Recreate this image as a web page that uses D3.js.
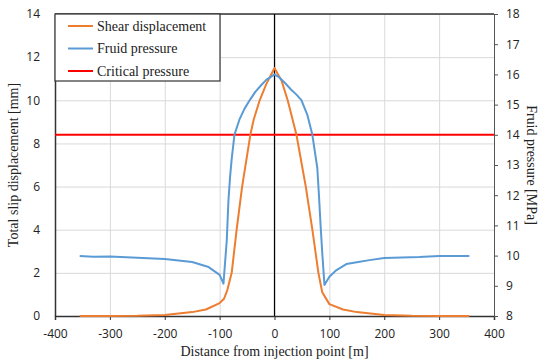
<!DOCTYPE html>
<html>
<head>
<meta charset="utf-8">
<script src="https://cdn.jsdelivr.net/npm/d3@7"></script>
<style>
  body { margin: 0; background: #fff; }
  svg { display: block; }
</style>
</head>
<body>
<div id="chart"></div>
<script>
// Shear displacement [mm] vs distance [m]
const shearX = [-355, -300, -250, -200, -150, -125, -100, -92, -86, -78, -69, -59, -44, -38, -27, -15, 0,
  13, 24, 40, 57, 69, 80, 87, 100, 125, 150, 200, 250, 300, 355];
const shearMm = [0, 0, 0.01, 0.05, 0.18, 0.3, 0.6, 0.8, 1.2, 2.0, 4.0, 6.0, 8.4, 9.1, 10.0, 10.75, 11.5,
  10.9, 10.0, 8.4, 6.0, 4.0, 2.0, 1.1, 0.55, 0.3, 0.18, 0.05, 0.01, 0, 0];

// Fluid pressure [MPa] vs distance [m]
const pressX = [-355, -330, -300, -250, -200, -150, -120, -100, -93, -87, -84, -81, -78, -73, -64, -55, -45, -35, -24, -15, 0,
  9, 20, 30, 40, 49, 60, 69, 78, 81, 84, 87, 91, 100, 113, 131, 150, 173, 200, 264, 300, 355];
const pressMPa = [9.99, 9.96, 9.97, 9.93, 9.89, 9.79, 9.62, 9.36, 9.07, 10.5, 11.8, 12.6, 13.2, 14.0, 14.5, 14.85, 15.15, 15.42, 15.65, 15.82, 16.0,
  15.9, 15.7, 15.5, 15.33, 15.15, 14.65, 14.0, 12.9, 12.0, 11.0, 10.1, 9.03, 9.3, 9.52, 9.72, 9.78, 9.85, 9.92, 9.95, 9.99, 9.99];

const criticalMPa = 14;

const xTicks = [-400, -300, -200, -100, 0, 100, 200, 300, 400];
const yLeftTicks = [0, 2, 4, 6, 8, 10, 12, 14];
const yRightTicks = [8, 9, 10, 11, 12, 13, 14, 15, 16, 17, 18];

const legendItems = [
  { label: 'Shear displacement', color: '#ED7D31' },
  { label: 'Fruid pressure', color: '#5B9BD5' },
  { label: 'Critical pressure', color: '#FF0000' },
];

const W = 540, H = 364;
const margin = { top: 14, right: 46, bottom: 48, left: 55 };
const width = W - margin.left - margin.right;
const height = H - margin.top - margin.bottom;

const svg = d3.select('#chart').append('svg')
  .attr('width', W).attr('height', H);
const g = svg.append('g').attr('transform', `translate(${margin.left},${margin.top})`);

const x = d3.scaleLinear().domain([-400, 400]).range([0, width]);
const yL = d3.scaleLinear().domain([0, 14]).range([height, 0]);
const yR = d3.scaleLinear().domain([8, 18]).range([height, 0]);

const tickFont = '"Open Sans", "Noto Sans", sans-serif';
const titleFont = '"Liberation Serif", "DejaVu Serif", serif';

// Grid
g.append('g').attr('transform', `translate(0,${height})`)
  .call(d3.axisBottom(x).tickValues(xTicks).tickSize(-height).tickFormat(''))
  .call(s => s.select('.domain').remove())
  .call(s => s.selectAll('.tick line').attr('stroke', '#d9d9d9'));
g.append('g')
  .call(d3.axisLeft(yL).tickValues(yLeftTicks).tickSize(-width).tickFormat(''))
  .call(s => s.select('.domain').remove())
  .call(s => s.selectAll('.tick line').attr('stroke', '#d9d9d9'));

// Axes
g.append('g').attr('transform', `translate(0,${height})`)
  .call(d3.axisBottom(x).tickValues(xTicks).tickSize(4).tickPadding(9).tickFormat(d => String(d)))
  .call(s => s.select('.domain').attr('stroke', '#333').attr('stroke-width', 1.5))
  .call(s => s.selectAll('.tick line').attr('stroke', '#333'))
  .call(s => s.selectAll('.tick text').attr('fill', '#222').attr('font-size', '12px').attr('font-family', tickFont));
g.append('g')
  .call(d3.axisLeft(yL).tickValues(yLeftTicks).tickSize(0).tickPadding(15))
  .call(s => s.select('.domain').attr('stroke', '#333').attr('stroke-width', 1.5))
  .call(s => s.selectAll('.tick text').attr('fill', '#222').attr('font-size', '12px').attr('font-family', tickFont));
g.append('g').attr('transform', `translate(${width},0)`)
  .call(d3.axisRight(yR).tickValues(yRightTicks).tickSize(4).tickPadding(8))
  .call(s => s.select('.domain').attr('stroke', '#555').attr('stroke-width', 1))
  .call(s => s.selectAll('.tick line').attr('stroke', '#555'))
  .call(s => s.selectAll('.tick text').attr('fill', '#222').attr('font-size', '12px').attr('font-family', tickFont));

// Top border
g.append('line').attr('x1', 0).attr('x2', width).attr('y1', 0).attr('y2', 0)
  .attr('stroke', '#333').attr('stroke-width', 1.5);

// Injection point line
g.append('line').attr('x1', x(0)).attr('x2', x(0)).attr('y1', 0).attr('y2', height)
  .attr('stroke', '#000').attr('stroke-width', 1.2);

// Critical pressure
g.append('line').attr('x1', 0).attr('x2', width)
  .attr('y1', yR(criticalMPa)).attr('y2', yR(criticalMPa))
  .attr('stroke', '#FF0000').attr('stroke-width', 2);

// Series
const shearLine = d3.line().x(d => x(d[0])).y(d => yL(d[1]));
g.append('path').datum(d3.zip(shearX, shearMm))
  .attr('fill', 'none').attr('stroke', '#ED7D31').attr('stroke-width', 2)
  .attr('stroke-linejoin', 'round').attr('d', shearLine);

const pressLine = d3.line().x(d => x(d[0])).y(d => yR(d[1]));
g.append('path').datum(d3.zip(pressX, pressMPa))
  .attr('fill', 'none').attr('stroke', '#5B9BD5').attr('stroke-width', 2)
  .attr('stroke-linejoin', 'round').attr('d', pressLine);

// Legend
const lg = g.append('g');
lg.append('rect').attr('x', 0).attr('y', 0).attr('width', 165).attr('height', 67)
  .attr('fill', '#fff').attr('stroke', '#333').attr('stroke-width', 1.2);
legendItems.forEach((it, i) => {
  const yy = 12 + i * 22.5;
  lg.append('line').attr('x1', 13).attr('x2', 38).attr('y1', yy).attr('y2', yy)
    .attr('stroke', it.color).attr('stroke-width', 2);
  lg.append('text').attr('x', 42).attr('y', yy + 4.5)
    .attr('font-family', titleFont).attr('font-size', '14px').attr('fill', '#222')
    .text(it.label);
});

// Axis titles
svg.append('text').attr('x', margin.left + width / 2).attr('y', H - 8)
  .attr('text-anchor', 'middle').attr('font-family', titleFont).attr('font-size', '14px').attr('fill', '#222')
  .text('Distance from injection point [m]');
svg.append('text').attr('transform', `translate(18,${margin.top + height / 2}) rotate(-90)`)
  .attr('text-anchor', 'middle').attr('font-family', titleFont).attr('font-size', '14px').attr('fill', '#222')
  .text('Total slip displacement [mm]');
svg.append('text').attr('transform', `translate(527,${margin.top + height / 2}) rotate(90)`)
  .attr('text-anchor', 'middle').attr('font-family', titleFont).attr('font-size', '14px').attr('fill', '#222')
  .text('Fruid pressure [MPa]');
</script>
</body>
</html>
